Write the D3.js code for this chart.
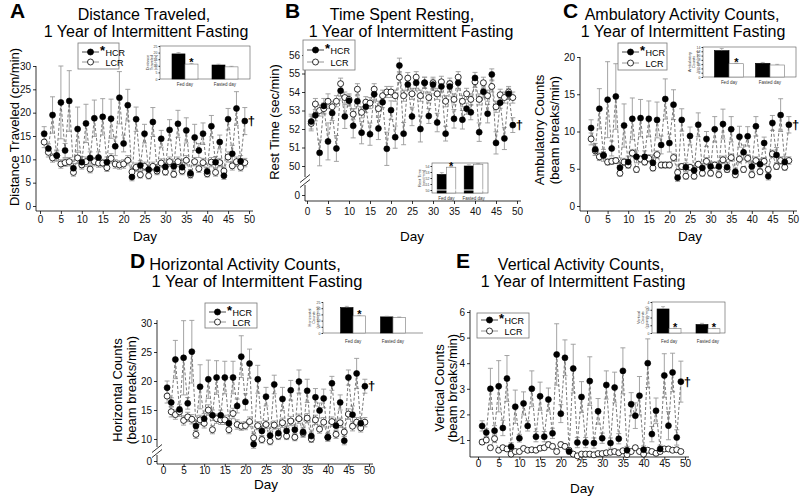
<!DOCTYPE html>
<html><head><meta charset="utf-8">
<script src="https://cdn.jsdelivr.net/npm/d3@7"></script>
<style>body{margin:0;background:#fff}svg{font-family:"Liberation Sans",Arial,Helvetica,sans-serif}</style>
</head><body><svg id="c" width="800" height="500"></svg>
<script>
const days = [1,2,3,4,5,6,7,8,9,10,11,12,13,14,15,16,17,18,19,20,21,22,23,24,25,26,27,28,29,30,31,32,33,34,35,36,37,38,39,40,41,42,43,44,45,46,47,48,49];
const xTickVals = [0,5,10,15,20,25,30,35,40,45,50];
const seriesNames = ["HCR","LCR"];
const insetGroups = ["Fed day","Fasted day"];

// Panel A: Distance traveled (cm/min)
const A_HCR = [15.5,12.3,19.5,10.8,22.2,11.9,22.5,8.1,16.5,9.4,17.7,10.3,18.8,10.4,19.1,9.4,18.7,12.8,23.2,13.4,21.6,6.2,18.6,8.7,15.5,7.8,18.0,7.9,14.4,8.4,16.3,8.5,17.6,8.3,16.2,7.0,14.7,11.9,15.5,7.4,17.1,9.4,13.7,6.5,18.6,11.2,20.9,9.6,18.2];
const A_HCR_err = [1.5,1.0,3.9,1.2,7.8,1.5,6.5,1.0,4.7,1.2,4.1,1.3,3.9,1.2,3.9,1.1,4.2,2.0,5.6,1.8,3.4,0.8,2.6,1.0,2.0,0.9,3.1,1.0,1.8,1.0,2.2,1.0,2.9,1.0,2.7,0.8,2.8,1.5,2.3,0.9,2.3,1.2,1.5,0.8,2.3,1.8,3.6,1.2,2.9];
const A_LCR = [13.7,11.5,10.3,10.8,9.0,9.3,9.5,7.2,10.3,8.8,9.5,7.9,9.5,9.2,9.2,8.2,10.2,9.0,8.8,9.0,9.8,7.3,8.3,6.7,8.5,6.5,8.5,7.5,9.2,7.3,9.5,6.8,9.5,7.5,9.8,6.7,9.5,8.0,9.3,6.9,9.4,7.2,9.3,7.5,10.5,8.6,9.5,8.3,9.3];
const A_LCR_err = [1.2,1.0,0.9,1.0,0.9,0.8,0.9,0.8,1.2,0.9,1.0,0.8,0.9,0.9,0.8,0.8,1.0,0.9,0.9,0.9,1.0,0.8,0.9,0.7,0.9,0.7,0.9,0.8,0.9,0.7,1.0,0.7,1.0,0.8,1.0,0.7,0.9,0.8,0.9,0.7,1.0,0.8,0.9,0.8,1.1,0.9,1.0,0.8,0.9];
const A_yTicks = [0,5,10,15,20,25,30];
const A_inHCR = [19.0,10.6], A_inHCR_err = [1.0,0.6], A_inLCR = [11.3,9.2], A_inLCR_err = [0.5,0.4];
const A_inTicks = [0,5,10,15,20,25];

// Panel B: Rest time (sec/min)
const B_HCR = [52.4,52.74,50.71,53.25,51.33,52.86,50.95,54.07,52.68,53.53,52.17,53.5,51.8,53.2,51.72,53.88,52.03,53.45,50.93,53.02,51.56,55.43,51.75,54.4,52.68,54.5,52.0,54.5,52.7,54.4,52.35,54.3,51.75,54.3,52.55,54.5,52.5,53.1,52.9,54.76,51.83,54.02,52.83,54.95,51.25,53.42,51.49,53.9,52.21];
const B_HCR_err = [0.4,0.3,0.7,0.4,1.0,0.4,0.7,0.3,0.65,0.3,0.65,0.3,0.6,0.3,0.6,0.3,0.6,0.3,0.9,0.5,0.6,0.4,0.6,0.3,0.5,0.3,0.7,0.3,0.4,0.3,0.5,0.3,0.4,0.3,0.5,0.3,0.5,0.3,0.4,0.3,0.5,0.3,0.5,0.3,0.6,0.3,0.6,0.3,0.4];
const B_LCR = [52.3,53.35,53.0,53.1,53.5,53.2,53.5,54.45,53.7,53.6,52.8,54.15,52.9,53.45,53.4,54.15,53.1,53.8,54.0,54.0,53.8,54.8,53.8,54.75,53.9,54.8,53.8,54.5,53.7,54.5,53.9,54.55,53.5,54.45,53.6,54.8,53.5,53.9,53.6,54.55,53.6,54.5,53.8,54.3,53.2,53.85,53.7,54.0,53.7];
const B_LCR_err = [0.4,0.3,0.3,0.3,0.4,0.3,0.3,0.3,0.3,0.3,0.3,0.3,0.3,0.3,0.3,0.3,0.4,0.3,0.3,0.3,0.3,0.3,0.3,0.3,0.3,0.3,0.3,0.3,0.3,0.3,0.3,0.3,0.3,0.3,0.3,0.3,0.3,0.3,0.3,0.3,0.3,0.3,0.3,0.3,0.3,0.3,0.3,0.3,0.3];
const B_yTicks = [50,51,52,53,54,55,56];
const B_zeroTick = [0];
const B_inHCR = [52.6,54.0], B_inHCR_err = [0.3,0.2], B_inLCR = [53.8,54.3], B_inLCR_err = [0.1,0.1];
const B_inTicks = [50,51,52,53,54];

// Panel C: Ambulatory counts
const C_HCR = [10.47,7.6,13.05,6.8,14.27,7.72,14.7,5.15,10.8,5.9,11.7,6.6,11.8,6.6,11.7,5.8,11.55,8.2,14.36,8.45,13.6,3.8,11.55,5.2,9.4,4.8,10.9,5.1,9.0,5.3,10.3,5.3,11.0,5.2,10.3,4.6,9.3,7.2,9.35,5.3,10.7,5.6,8.45,4.0,11.15,6.85,12.2,5.9,10.9];
const C_HCR_err = [1.1,0.8,2.7,0.8,5.1,1.0,4.4,0.6,2.9,0.8,2.8,0.8,2.5,0.8,2.4,0.7,2.4,1.2,2.7,1.2,2.0,0.5,1.5,0.6,1.2,0.6,1.6,0.6,1.0,0.6,1.7,0.6,2.0,0.6,1.7,0.5,1.4,1.0,1.3,0.6,1.3,0.7,0.8,0.5,1.0,1.0,2.2,0.7,1.1];
const C_LCR = [9.0,7.4,6.6,6.8,5.9,6.0,6.1,4.4,5.9,5.5,7.1,4.9,6.3,5.9,6.4,5.1,6.9,5.5,5.5,5.5,6.5,4.5,5.3,4.0,5.2,4.0,5.6,4.4,6.0,4.4,5.5,4.2,6.2,4.9,6.5,4.2,6.3,4.9,6.4,4.2,6.1,4.6,6.0,4.9,7.0,5.3,6.1,5.2,6.1];
const C_LCR_err = [0.8,0.6,0.5,0.5,0.4,0.4,0.4,0.4,0.5,0.4,0.5,0.4,0.4,0.4,0.5,0.4,0.5,0.4,0.4,0.4,0.5,0.4,0.4,0.4,0.4,0.4,0.4,0.4,0.5,0.4,0.4,0.4,0.5,0.4,0.5,0.4,0.5,0.4,0.5,0.4,0.5,0.4,0.5,0.4,0.5,0.4,0.5,0.4,0.5];
const C_yTicks = [0,5,10,15,20];
const C_inHCR = [12.3,6.4], C_inHCR_err = [1.0,0.4], C_inLCR = [6.2,5.6], C_inLCR_err = [0.3,0.3];
const C_inTicks = [0,2,4,6,8,10,12,14];

// Panel D: Horizontal counts
const D_HCR = [18.85,16.3,23.7,15.1,24.0,16.15,25.05,12.25,19.0,13.5,20.3,14.1,20.6,14.1,20.6,12.7,20.6,15.7,24.2,16.4,23.0,9.1,20.3,11.4,17.3,10.6,19.4,11.0,16.9,11.4,18.4,11.6,19.9,11.2,18.3,10.5,17.2,14.9,17.0,10.3,19.6,12.3,16.3,9.7,20.6,14.2,21.3,12.7,19.1];
const D_HCR_err = [1.15,0.8,3.3,0.9,6.4,1.0,5.4,0.8,3.8,0.9,3.3,0.9,2.9,0.9,2.8,0.8,2.8,1.2,3.6,1.4,2.5,0.7,2.4,0.8,1.6,0.8,1.6,0.8,2.0,0.8,1.7,0.8,2.0,0.8,2.0,0.7,1.5,1.3,1.6,0.7,1.2,1.0,1.3,0.7,1.3,1.5,2.6,0.9,1.2];
const D_LCR = [17.4,14.7,14.2,14.7,13.2,13.8,13.4,10.8,13.3,12.7,15.0,11.6,13.5,13.3,13.3,11.6,14.4,12.5,12.2,12.3,13.0,10.2,12.3,9.9,12.5,9.6,12.4,10.5,12.8,10.5,13.1,10.3,13.5,11.0,13.6,10.0,13.3,11.7,12.9,10.3,13.0,10.8,12.8,11.2,14.3,12.2,12.9,11.9,12.9];
const D_LCR_err = [1.2,0.9,0.8,0.8,0.8,0.8,0.8,0.7,0.8,0.8,0.9,0.7,0.8,0.8,0.8,0.7,0.9,0.8,0.7,0.7,0.8,0.7,0.7,0.6,0.7,0.6,0.7,0.6,0.8,0.6,0.8,0.6,0.8,0.7,0.8,0.6,0.8,0.7,0.8,0.6,0.8,0.7,0.8,0.7,0.9,0.8,0.8,0.7,0.8];
const D_yTicks = [10,15,20,25,30];
const D_zeroTick = [0];
const D_inHCR = [20.5,13.0], D_inHCR_err = [1.0,0.5], D_inLCR = [13.8,12.5], D_inLCR_err = [0.5,0.4];
const D_inTicks = [0,5,10,15,20,25];

// Panel E: Vertical counts
const E_HCR = [1.55,1.29,3.0,1.36,3.1,1.47,3.4,0.74,2.3,1.07,2.43,1.55,3.0,1.13,2.71,1.13,2.58,1.26,4.34,2.03,4.21,0.55,3.79,0.9,2.68,0.9,3.3,0.88,2.12,1.07,3.15,0.88,3.05,1.05,3.7,0.6,2.4,1.95,2.73,0.62,4.0,1.23,2.14,0.65,3.52,1.56,3.64,1.1,3.28];
const E_HCR_err = [0.2,0.15,0.8,0.2,1.0,0.3,0.9,0.15,0.65,0.15,0.45,0.2,0.7,0.2,0.55,0.2,0.45,0.2,1.2,0.35,0.7,0.1,0.95,0.2,0.6,0.2,0.95,0.2,0.5,0.2,0.55,0.2,0.6,0.2,0.9,0.15,0.45,0.5,0.75,0.15,0.95,0.3,0.5,0.15,0.85,0.55,0.75,0.3,0.8];
const E_LCR = [0.92,1.0,0.7,1.05,0.6,0.7,0.65,0.45,0.55,0.55,0.67,0.6,0.62,0.6,0.68,0.7,0.82,0.75,0.55,0.82,0.75,0.6,0.45,0.38,0.45,0.45,0.45,0.42,0.47,0.47,0.5,0.52,0.55,0.5,0.58,0.43,0.55,0.7,0.55,0.45,0.6,0.55,0.48,0.55,0.65,0.65,0.6,0.62,0.55];
const E_LCR_err = [0.1,0.1,0.08,0.15,0.07,0.08,0.07,0.06,0.07,0.07,0.08,0.07,0.07,0.07,0.08,0.08,0.1,0.09,0.07,0.1,0.09,0.07,0.06,0.05,0.06,0.06,0.06,0.05,0.06,0.06,0.06,0.06,0.07,0.06,0.07,0.05,0.07,0.08,0.07,0.06,0.07,0.07,0.06,0.07,0.08,0.08,0.07,0.07,0.07];
const E_yTicks = [1,2,3,4,5,6];
const E_inHCR = [3.1,1.1], E_inHCR_err = [0.3,0.15], E_inLCR = [0.6,0.55], E_inLCR_err = [0.05,0.05];
const E_inTicks = [0,1,2,3,4];

const panels = [
 {letter:"A", letterPos:[10,18], title:["Distance Traveled,","1 Year of Intermittent Fasting"], tSize:16, titleX:[144,146], titleY:[20,37],
  ylab:["Distance Traveled (cm/min)"], ylabX:[14], ylabY:127,
  xRange:[40,249], yAxisX:36, xAxisEnd:253, xAxisY:211, xPad:2,
  yDom:[0,30], yRng:[206,66], yTicks:A_yTicks, yTop:66, dayX:145, dayY:241,
  hcr:A_HCR, hcrErr:A_HCR_err, lcr:A_LCR, lcrErr:A_LCR_err,
  legend:{x:78,y:43,w:41,h:26,r1:52,r2:62},
  inset:{l:160,r:250,t:46,b:79,pi:.35,po:.3,dom:[0,25],ticks:A_inTicks,lab:["Distance","Traveled","(cm/min)"],labX:149,catY:86,frame:true,stars:[0],
   hcr:A_inHCR,hcrErr:A_inHCR_err,lcr:A_inLCR,lcrErr:A_inLCR_err}},
 {letter:"B", letterPos:[285,18], title:["Time Spent Resting,","1 Year of Intermittent Fasting"], tSize:16, titleX:[402,411], titleY:[20,37],
  ylab:["Rest Time (sec/min)"], ylabX:[274], ylabY:122,
  xRange:[307,517], yAxisX:305, xAxisEnd:521, xAxisY:201, xPad:4,
  yDom:[50,56], yRng:[166,55], yTicks:B_yTicks, yTop:51, brk:{mainBottom:177, lowTop:185, zeroY:195, markY:181, ticks:B_zeroTick},
  dayX:412, dayY:241,
  hcr:B_HCR, hcrErr:B_HCR_err, lcr:B_LCR, lcrErr:B_LCR_err,
  legend:{x:303,y:40,w:52,h:30,r1:50,r2:62},
  inset:{l:432,r:488,t:163,b:193,pi:.31,po:.19,dom:[49.5,54.5],ticks:B_inTicks,lab:["Rest Time","(sec/min)"],labX:421,catY:200,frame:true,stars:[0],brk:true,
   hcr:B_inHCR,hcrErr:B_inHCR_err,lcr:B_inLCR,lcrErr:B_inLCR_err}},
 {letter:"C", letterPos:[563,18], title:["Ambulatory Activity Counts,","1 Year of Intermittent Fasting"], tSize:16, titleX:[682,683], titleY:[20,37],
  ylab:["Ambulatory Counts","(beam breaks/min)"], ylabX:[539,554], ylabY:130,
  xRange:[587,793], yAxisX:580, xAxisEnd:797, xAxisY:211, xPad:2,
  yDom:[0,20], yRng:[206,57], yTicks:C_yTicks, yTop:57, dayX:690, dayY:241,
  hcr:C_HCR, hcrErr:C_HCR_err, lcr:C_LCR, lcrErr:C_LCR_err,
  legend:{x:618,y:43,w:49,h:27,r1:52,r2:63},
  inset:{l:703,r:796,t:47,b:77,pi:.29,po:.28,dom:[0,14],ticks:C_inTicks,lab:["Ambulatory","Counts","(counts/min)"],labX:691,catY:84,frame:true,stars:[0],
   hcr:C_inHCR,hcrErr:C_inHCR_err,lcr:C_inLCR,lcrErr:C_inLCR_err}},
 {letter:"D", letterPos:[130,268], title:["Horizontal Activity Counts,","1 Year of Intermittent Fasting"], tSize:16.5, titleX:[245,257], titleY:[270,287],
  ylab:["Horizontal Counts","(beam breaks/min)"], ylabX:[117,131], ylabY:390,
  xRange:[163,369], yAxisX:157, xAxisEnd:373, xAxisY:464, xPad:0,
  yDom:[10,30], yRng:[439,323], yTicks:D_yTicks, yTop:320, brk:{mainBottom:447, lowTop:455, zeroY:461, markY:451, ticks:D_zeroTick},
  dayX:266, dayY:489,
  hcr:D_HCR, hcrErr:D_HCR_err, lcr:D_LCR, lcrErr:D_LCR_err,
  legend:{x:205,y:303,w:52,h:25,r1:312,r2:322},
  inset:{l:323,r:423,t:302,b:333,pi:.375,po:.44,dom:[0,25],ticks:D_inTicks,lab:["Horizontal","Counts","(counts/min)"],labX:311,catY:343,frame:false,stars:[0],
   hcr:D_inHCR,hcrErr:D_inHCR_err,lcr:D_inLCR,lcrErr:D_inLCR_err}},
 {letter:"E", letterPos:[456,268], title:["Vertical Activity Counts,","1 Year of Intermittent Fasting"], tSize:16, titleX:[581,583], titleY:[270,287],
  ylab:["Vertical Counts","(beam breaks/min)"], ylabX:[439,452], ylabY:388,
  xRange:[478,685], yAxisX:470, xAxisEnd:689, xAxisY:457, xPad:0,
  yDom:[1,6], yRng:[440,312], yTicks:E_yTicks, yTop:310, dayX:582, dayY:493,
  hcr:E_HCR, hcrErr:E_HCR_err, lcr:E_LCR, lcrErr:E_LCR_err,
  legend:{x:477,y:313,w:52,h:25,r1:320,r2:331},
  inset:{l:652,r:725,t:302,b:333,pi:.385,po:.13,dom:[0,4],ticks:E_inTicks,lab:["Vertical","Counts","(counts/min)"],labX:640,catY:343,frame:true,stars:[0,1],
   hcr:E_inHCR,hcrErr:E_inHCR_err,lcr:E_inLCR,lcrErr:E_inLCR_err}}
];

const svg = d3.select("#c");
const FONT = '"Liberation Sans", Arial, Helvetica, sans-serif';
const ERRC = "#9a9a9a", LINEC = "#808080";
const fmt = d3.format("d");

function styleAxis(g, fs){
  g.attr("font-family", FONT).attr("font-size", fs);
  g.selectAll(".tick line").attr("stroke","#000").attr("stroke-width",0.8);
  g.selectAll(".tick text").attr("fill","#111");
  g.select(".domain").remove();
}

function drawErr(g, x, y, vals, errs, cap){
  const gg = g.append("g").attr("stroke", ERRC).attr("stroke-width", 0.9);
  gg.selectAll("line.v").data(days).join("line").attr("class","v")
    .attr("x1", d=>x(d)).attr("x2", d=>x(d))
    .attr("y1", (d,i)=>y(vals[i]-errs[i])).attr("y2", (d,i)=>y(vals[i]+errs[i]));
  gg.selectAll("line.t").data(days).join("line").attr("class","t")
    .attr("x1", d=>x(d)-cap).attr("x2", d=>x(d)+cap)
    .attr("y1", (d,i)=>y(vals[i]+errs[i])).attr("y2", (d,i)=>y(vals[i]+errs[i]));
  gg.selectAll("line.b").data(days).join("line").attr("class","b")
    .attr("x1", d=>x(d)-cap).attr("x2", d=>x(d)+cap)
    .attr("y1", (d,i)=>y(vals[i]-errs[i])).attr("y2", (d,i)=>y(vals[i]-errs[i]));
}

function drawInset(P){
  const I = P.inset;
  const g = svg.append("g");
  const ix = d3.scaleBand().domain(insetGroups).range([I.l, I.r]).paddingInner(I.pi).paddingOuter(I.po);
  const sub = d3.scaleBand().domain(seriesNames).range([0, ix.bandwidth()]);
  const iy = d3.scaleLinear().domain(I.dom).range([I.b, I.t]);
  if (I.frame) {
    g.append("rect").attr("x", I.l).attr("y", I.t).attr("width", I.r - I.l).attr("height", I.b - I.t)
      .attr("fill","#fff").attr("stroke","#555").attr("stroke-width",0.6);
  } else {
    g.append("line").attr("x1",I.l).attr("x2",I.l).attr("y1",I.t).attr("y2",I.b).attr("stroke","#555").attr("stroke-width",0.6);
    g.append("line").attr("x1",I.l).attr("x2",I.r).attr("y1",I.b).attr("y2",I.b).attr("stroke","#555").attr("stroke-width",0.6);
  }
  const ax = g.append("g").attr("transform",`translate(${I.l},0)`)
    .call(d3.axisLeft(iy).tickValues(I.ticks).tickFormat(fmt).tickSize(1.5).tickPadding(1));
  styleAxis(ax, 3.5);
  ax.selectAll(".tick text").attr("fill","#444");
  I.lab.forEach((t,i)=>{
    g.append("text").attr("transform",`translate(${I.labX + i*4},${(I.t+I.b)/2}) rotate(-90)`)
      .attr("text-anchor","middle").attr("font-size",4).attr("fill","#444").text(t);
  });
  const series = [{k:"HCR", v:I.hcr, e:I.hcrErr, fill:"#000"},{k:"LCR", v:I.lcr, e:I.lcrErr, fill:"#fff"}];
  series.forEach(s=>{
    const bw = sub.bandwidth();
    g.selectAll(null).data(insetGroups).join("rect")
      .attr("x", d=>ix(d)+sub(s.k)).attr("width", bw)
      .attr("y", (d,i)=>iy(s.v[i])).attr("height", (d,i)=>I.b - iy(s.v[i]))
      .attr("fill", s.fill).attr("stroke", s.k==="HCR" ? "#000" : "#777").attr("stroke-width", 0.6);
    g.selectAll(null).data(insetGroups).join("line")
      .attr("x1", d=>ix(d)+sub(s.k)+bw/2).attr("x2", d=>ix(d)+sub(s.k)+bw/2)
      .attr("y1", (d,i)=>iy(s.v[i])).attr("y2", (d,i)=>iy(s.v[i]+s.e[i]))
      .attr("stroke","#888").attr("stroke-width",0.6);
    g.selectAll(null).data(insetGroups).join("line")
      .attr("x1", d=>ix(d)+sub(s.k)+bw/2-2).attr("x2", d=>ix(d)+sub(s.k)+bw/2+2)
      .attr("y1", (d,i)=>iy(s.v[i]+s.e[i])).attr("y2", (d,i)=>iy(s.v[i]+s.e[i]))
      .attr("stroke","#888").attr("stroke-width",0.6);
  });
  if (I.brk) {
    g.append("line").attr("x1", I.l+1).attr("x2", I.r-1).attr("y1", I.b-3).attr("y2", I.b-3)
      .attr("stroke","#fff").attr("stroke-width",1.2);
  }
  I.stars.forEach(i=>{
    const grp = insetGroups[i];
    g.append("text").attr("x", ix(grp)+sub("LCR")+sub.bandwidth()/2).attr("y", iy(I.lcr[i]+I.lcrErr[i])+3)
      .attr("text-anchor","middle").attr("font-size",11).attr("font-weight","bold").text("*");
  });
  insetGroups.forEach(grp=>{
    g.append("text").attr("x", ix(grp)+ix.bandwidth()/2).attr("y", I.catY)
      .attr("text-anchor","middle").attr("font-size",4.5).attr("fill","#333").text(grp);
  });
}

function drawLegend(P){
  const L = P.legend;
  const g = svg.append("g");
  g.append("rect").attr("x",L.x).attr("y",L.y).attr("width",L.w).attr("height",L.h)
    .attr("fill","#fff").attr("stroke","#777").attr("stroke-width",0.8);
  [[L.r1,"HCR"],[L.r2,"LCR"]].forEach(([ry,k])=>{
    g.append("line").attr("x1",L.x+4).attr("x2",L.x+21).attr("y1",ry).attr("y2",ry)
      .attr("stroke", k==="HCR" ? "#333" : "#888").attr("stroke-width",0.9);
    g.append("circle").attr("cx",L.x+12.5).attr("cy",ry).attr("r",3)
      .attr("fill", k==="HCR" ? "#000" : "#fff").attr("stroke","#000").attr("stroke-width",0.8);
    if (k==="HCR") {
      g.append("text").attr("x",L.x+22).attr("y",ry+3).attr("font-size",13).attr("font-weight","bold").text("*");
    }
    g.append("text").attr("x",L.x+27.5).attr("y",ry+3.5).attr("font-size",9).text(k);
  });
}

function drawPanel(P){
  const g = svg.append("g");
  const x = d3.scaleLinear().domain([0,50]).range(P.xRange);
  const y = d3.scaleLinear().domain(P.yDom).range(P.yRng);

  g.append("text").attr("x",P.letterPos[0]).attr("y",P.letterPos[1]).attr("font-size",21).attr("font-weight","bold").text(P.letter);
  P.title.forEach((t,i)=>g.append("text").attr("x",P.titleX[i]).attr("y",P.titleY[i]).attr("text-anchor","middle").attr("font-size",P.tSize).text(t));
  P.ylab.forEach((t,i)=>g.append("text").attr("transform",`translate(${P.ylabX[i]},${P.ylabY}) rotate(-90)`)
    .attr("text-anchor","middle").attr("dominant-baseline","central").attr("font-size",13).text(t));
  g.append("text").attr("x",P.dayX).attr("y",P.dayY).attr("text-anchor","middle").attr("font-size",13.5).text("Day");

  // x axis
  const gx = g.append("g").attr("transform",`translate(0,${P.xAxisY})`)
    .call(d3.axisBottom(x).tickValues(xTickVals).tickFormat(fmt).tickSize(3).tickPadding(P.xPad).tickSizeOuter(0));
  styleAxis(gx, 10);
  g.append("line").attr("x1",P.yAxisX).attr("x2",P.xAxisEnd).attr("y1",P.xAxisY).attr("y2",P.xAxisY).attr("stroke","#000").attr("stroke-width",0.8);

  // y axis
  const gy = g.append("g").attr("transform",`translate(${P.yAxisX},0)`)
    .call(d3.axisLeft(y).tickValues(P.yTicks).tickFormat(fmt).tickSize(3).tickPadding(2).tickSizeOuter(0));
  styleAxis(gy, 10);
  if (P.brk) {
    const B = P.brk;
    g.append("line").attr("x1",P.yAxisX).attr("x2",P.yAxisX).attr("y1",P.yTop).attr("y2",B.mainBottom).attr("stroke","#000").attr("stroke-width",0.8);
    g.append("line").attr("x1",P.yAxisX).attr("x2",P.yAxisX).attr("y1",B.lowTop).attr("y2",P.xAxisY).attr("stroke","#000").attr("stroke-width",0.8);
    const z = d3.scaleLinear().domain([0,1]).range([B.zeroY, B.zeroY-10]);
    const gz = g.append("g").attr("transform",`translate(${P.yAxisX},0)`)
      .call(d3.axisLeft(z).tickValues(B.ticks).tickFormat(fmt).tickSize(3).tickPadding(2).tickSizeOuter(0));
    styleAxis(gz, 10);
    [-2.5, 2.5].forEach(o=>{
      g.append("line").attr("x1",P.yAxisX-5).attr("x2",P.yAxisX+5).attr("y1",B.markY+o+4).attr("y2",B.markY+o-4)
        .attr("stroke","#000").attr("stroke-width",0.8);
    });
  } else {
    g.append("line").attr("x1",P.yAxisX).attr("x2",P.yAxisX).attr("y1",P.yTop).attr("y2",P.xAxisY).attr("stroke","#000").attr("stroke-width",0.8);
  }

  // error bars
  drawErr(g, x, y, P.lcr, P.lcrErr, 2.5);
  drawErr(g, x, y, P.hcr, P.hcrErr, 2.5);

  // lines
  const line = d3.line().x((d,i)=>x(days[i])).y(d=>y(d));
  g.append("path").attr("d", line(P.lcr)).attr("fill","none").attr("stroke",LINEC).attr("stroke-width",0.9).attr("stroke-dasharray","3,2");
  g.append("path").attr("d", line(P.hcr)).attr("fill","none").attr("stroke","#6a6a6a").attr("stroke-width",0.9).attr("stroke-dasharray","3,2");

  // markers
  g.append("g").selectAll("circle").data(P.lcr).join("circle")
    .attr("cx",(d,i)=>x(days[i])).attr("cy",d=>y(d)).attr("r",3)
    .attr("fill","#fff").attr("stroke","#000").attr("stroke-width",0.8);
  g.append("g").selectAll("circle").data(P.hcr).join("circle")
    .attr("cx",(d,i)=>x(days[i])).attr("cy",d=>y(d)).attr("r",3)
    .attr("fill","#000").attr("stroke","#000").attr("stroke-width",0.6);

  // dagger
  const li = days.length-1;
  g.append("text").attr("x", x(days[li])+3).attr("y", y(P.hcr[li])+4).attr("font-size",13).attr("font-weight","bold").text("\u2020");

  drawLegend(P);
  drawInset(P);
}

panels.forEach(drawPanel);
</script></body></html>
